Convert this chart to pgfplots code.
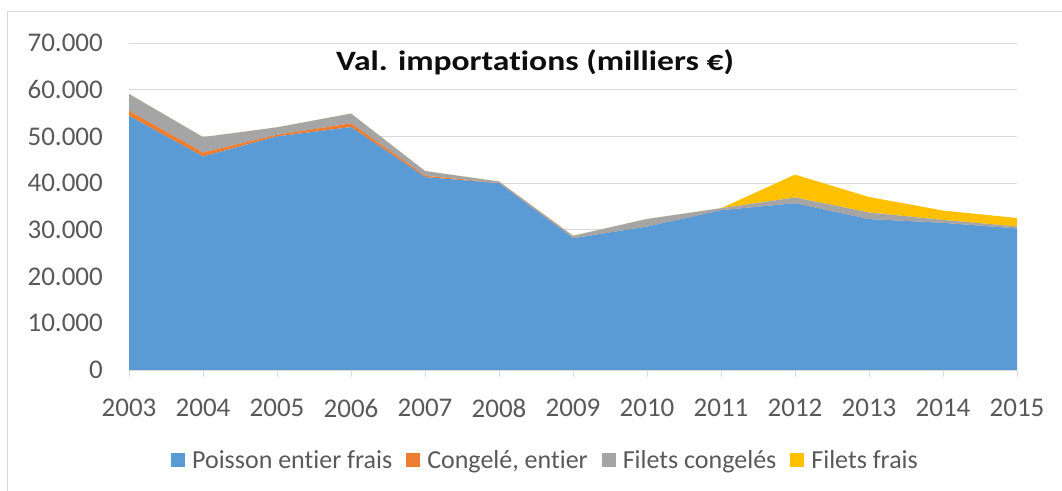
\documentclass[border=0pt]{standalone}
\usepackage{fontspec}
\setmainfont{Carlito}[Ligatures={NoCommon,NoRequired,NoContextual}]
\usepackage{graphicx}
\usepackage{pgfplots}
\usepackage{pgfplotstable}
\pgfplotsset{compat=1.18}
\definecolor{cblue}{HTML}{5B9BD5}
\definecolor{corange}{HTML}{ED7D31}
\definecolor{cgrey}{HTML}{A5A5A5}
\definecolor{cyellow}{HTML}{FFC000}
\definecolor{ctext}{HTML}{595959}
\definecolor{cgrid}{HTML}{D9D9D9}
\pgfplotstableread{
year blue orange grey yellow
2003 54400 1100 3600 0
2004 45700 850 3300 0
2005 50000 350 1600 0
2006 52000 800 2100 0
2007 41300 300 1000 0
2008 40000 50 300 0
2009 28200 30 500 0
2010 30700 30 1600 0
2011 34200 30 400 0
2012 35700 30 1200 4900
2013 32300 30 1400 3300
2014 31500 30 600 2000
2015 30300 30 400 1800
}\datatable
\begin{document}
\begin{tikzpicture}
\path (-129bp,-121bp) rectangle (933bp,370bp);
\draw[cgrid, line width=1bp] (-121bp,-120.5bp) -- (-121bp,358bp) -- (932.5bp,358bp);
\begin{axis}[
  at={(0bp,0bp)}, anchor=south west,
  scale only axis,
  width=888bp, height=327bp,
  xmin=2003, xmax=2015,
  ymin=0, ymax=70000,
  scaled y ticks=false,
  stack plots=y,
  set layers,
  axis x line*=bottom,
  axis y line*=left,
  x axis line style={draw=cgrid, line width=1bp},
  y axis line style={draw=none},
  xtick={2003,2004,2005,2006,2007,2008,2009,2010,2011,2012,2013,2014,2015},
  xticklabels={2003,2004,2005,2006,2007,2008,2009,2010,2011,2012,2013,2014,2015},
  ytick={0,10000,20000,30000,40000,50000,60000,70000},
  yticklabels={0,10.000,20.000,30.000,40.000,50.000,60.000,70.000},
  ymajorgrids,
  major grid style={draw=cgrid, line width=1bp},
  tick align=outside,
  major tick length=7bp,
  xtick style={draw=cgrid, line width=1bp},
  ytick style={draw=none},
  tick label style={font=\fontsize{27bp}{30bp}\selectfont, text=ctext, inner sep=0pt},
  yticklabel style={anchor=east, xshift=-19bp},
  xticklabel style={anchor=north, yshift=-22bp},
  legend columns=4,
  legend style={at={(axis description cs:0.4696,-0.2752)}, anchor=center, draw=none, fill=none,
    font=\fontsize{26bp}{28bp}\selectfont, text=ctext,
    nodes={inner sep=3bp},
    /tikz/every odd column/.append style={column sep=4bp},
    /tikz/every even column/.append style={column sep=11bp}},
  legend image code/.code={\fill[#1] (0bp,-7bp) rectangle (14bp,7bp);},
]
\addplot[fill=cblue, draw=none] table[x=year, y=blue] {\datatable} \closedcycle;
\addlegendentry{Poisson entier frais}
\addplot[fill=corange, draw=none] table[x=year, y=orange] {\datatable} \closedcycle;
\addlegendentry{Congelé, entier}
\addplot[fill=cgrey, draw=none] table[x=year, y=grey] {\datatable} \closedcycle;
\addlegendentry{Filets congelés}
\addplot[fill=cyellow, draw=none] table[x=year, y=yellow] {\datatable} \closedcycle;
\addlegendentry{Filets frais}
\end{axis}
\node[font=\fontsize{28bp}{30bp}\selectfont\bfseries, text=black!95] at (406bp,308bp) {\scalebox{1.2}[1]{Val. importations (milliers €)}};
\end{tikzpicture}
\end{document}
